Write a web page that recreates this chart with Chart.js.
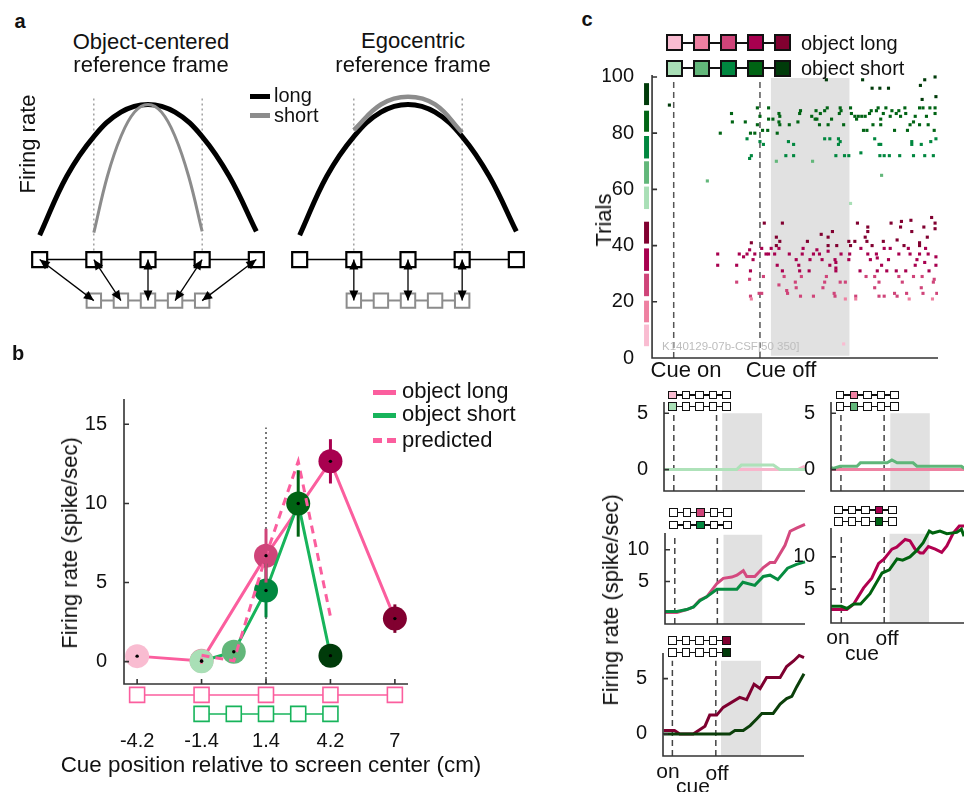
<!DOCTYPE html>
<html><head><meta charset="utf-8">
<script src="https://cdn.jsdelivr.net/npm/chart.js@4.4.1/dist/chart.umd.min.js"></script>
<style>
html,body{margin:0;padding:0;background:#fff;}
#fig{position:relative;width:964px;height:792px;overflow:hidden;font-family:"Liberation Sans",Arial,sans-serif;color:#111;}
#fig canvas{position:absolute;}
.t{position:absolute;white-space:nowrap;line-height:1;transform:translate(-50%,-50%);}
.l{position:absolute;white-space:nowrap;line-height:1;transform:translate(0,-50%);}
.r{position:absolute;white-space:nowrap;line-height:1;transform:translate(-50%,-50%) rotate(-90deg);}
.sw{position:absolute;box-sizing:border-box;}
</style></head><body><div id="fig"></div><script>
// ---------- a: schematic tuning curves (position index, relative rate) ----------
const aTopPos = [-2, -1, 0, 1, 2];
const aSubPos = [-1, -0.5, 0, 0.5, 1];
const aRowY = -0.21, aSubRowY = -0.53;
const aLongX = [-2, -1.5, -1, -0.5, 0, 0.5, 1, 1.5, 2];
const aLongY = [-0.02, 0.44, 0.75, 0.94, 1, 0.94, 0.75, 0.44, 0.01];
const aObjShortX = [-1, -0.75, -0.5, -0.25, 0, 0.25, 0.5, 0.75, 1];
const aObjShortY = [0, 0.44, 0.75, 0.94, 1, 0.94, 0.75, 0.44, 0.01];
const aEgoShortX = [-1, -0.5, 0, 0.5, 1];
const aEgoShortY = [0.8, 1.0, 1.06, 1.0, 0.78];

// ---------- b: tuning across cue positions ----------
const bLongPos = [-4.2, -1.4, 1.4, 4.2, 7];
const bShortPos = [-1.4, 0, 1.4, 2.8, 4.2];
const bLongRate = [0.35, 0.05, 6.7, 12.66, 2.72];
const bLongErr = [0.2, 0.2, 1.7, 1.4, 0.9];
const bShortRate = [0.03, 0.63, 4.5, 10.0, 0.38];
const bShortErr = [0.15, 0.2, 1.7, 2.1, 0.2];
const bPredRate = [0.4, 0.05, 6.7, 12.66, 2.85];
const bXTicks = [-4.2, -1.4, 1.4, 4.2, 7];
const bYTicks = [0, 5, 10, 15];
const longColors = ['#f9bcd1', '#ee80a1', '#cf4479', '#a8004f', '#810030'];
const shortColors = ['#a9dfb6', '#62b77a', '#00873f', '#006414', '#003b0a'];

// ---------- c: raster (time re. cue on, trial) ----------
const cueOn = 0, cueOff = 1;
const rasterTicks = [0, 20, 40, 60, 80, 100];
const longGroups = [[4.2, 11.9], [12.7, 20.4], [22, 30], [31, 39], [40.7, 48.5]];
const shortGroups = [[53, 61], [62, 70], [71, 79], [80.5, 88], [90, 97.8]];
const rasterShort = [[-0.05,90],[0.39,63],[0.54,80],[0.67,87],[0.68,84],[0.83,84],[0.85,78],[0.89,80],[0.90,72],[0.88,71],[0.94,80],[0.97,89],[0.97,83],[1.0,86],[1.0,77],[1.04,76],[1.03,81],[1.09,81],[1.10,89],[1.10,85],[1.15,85],[1.19,70],[1.20,80],[1.22,87],[1.23,86],[1.23,83],[1.22,84],[1.34,83],[1.33,77],[1.39,76],[1.30,72],[1.39,72],[1.44,84],[1.46,87],[1.47,88],[1.61,70],[1.60,86],[1.65,88],[1.64,85],[1.66,85],[1.69,83],[1.70,87],[1.75,88],[1.78,89],[1.77,99],[1.79,83],[1.75,78],[1.81,78],[1.83,85],[1.88,72],[1.91,78],[1.91,76],[1.93,89],[1.92,87],[1.94,88],[1.93,77],[1.97,83],[1.98,72],[2.03,72],[2.05,55],[2.05,89],[2.06,87],[2.10,86],[2.14,86],[2.18,86],[2.22,86],[2.12,85],[2.17,73],[2.19,99],[2.20,81],[2.24,81],[2.27,87],[2.29,88],[2.30,96],[2.31,83],[2.33,78],[2.35,88],[2.37,89],[2.38,76],[2.40,76],[2.39,96],[2.39,72],[2.41,65],[2.40,85],[2.40,83],[2.43,87],[2.44,72],[2.46,89],[2.49,96],[2.50,72],[2.51,86],[2.53,88],[2.56,81],[2.58,87],[2.61,88],[2.62,72],[2.63,86],[2.68,89],[2.69,87],[2.71,81],[2.74,83],[2.76,77],[2.76,76],[2.78,72],[2.78,84],[2.80,86],[2.85,89],[2.89,89],[2.85,83],[2.86,97],[2.87,76],[2.88,92],[2.91,99],[2.91,72],[2.93,86],[2.95,83],[2.97,89],[3.03,89],[2.98,77],[3.01,72],[3.02,81],[3.03,100],[3.04,93],[3.03,87],[3.04,78]];
const rasterLong = [[0.51,37],[0.51,33],[0.73,33],[0.73,27],[0.76,37],[0.81,36],[0.85,37],[0.88,38.5],[0.90,41],[0.92,35],[0.89,31],[0.88,28],[0.89,22],[0.90,21],[0.99,23],[1.02,23],[0.94,37],[1.02,39],[1.04,29],[1.05,48],[1.07,37],[1.10,37],[1.13,39],[1.17,37],[1.19,43],[1.20,33],[1.19,40],[1.22,39],[1.23,41.5],[1.26,48],[1.26,31],[1.28,29],[1.22,26],[1.31,24],[1.32,23],[1.34,37],[1.41,27],[1.42,35],[1.42,25],[1.45,33],[1.46,31],[1.48,29],[1.49,37],[1.47,22],[1.50,39],[1.55,41.5],[1.58,35],[1.57,31],[1.62,22],[1.62,37],[1.66,38.5],[1.69,37],[1.71,44],[1.72,35],[1.77,29],[1.79,43],[1.79,40],[1.81,33],[1.79,38],[1.75,27],[1.73,25],[1.84,45],[1.86,23],[1.87,22],[1.87,35],[1.88,34],[1.88,32],[1.88,31],[1.89,40],[1.93,27],[1.99,27],[1.94,37],[1.99,21],[1.97,5],[2.03,41.5],[2.04,37],[2.05,40],[2.03,35],[2.10,41.5],[2.11,22],[2.11,21],[2.13,48],[2.16,31],[2.17,39],[2.22,43],[2.24,41.5],[2.25,45],[2.25,46.6],[2.25,37],[2.23,29],[2.28,35],[2.30,40],[2.33,25],[2.33,29],[2.35,37],[2.36,35.6],[2.36,31],[2.38,27],[2.38,22],[2.44,22],[2.41,33],[2.43,41.5],[2.44,39],[2.47,31],[2.49,35],[2.52,48],[2.51,39],[2.56,23],[2.59,22],[2.58,31],[2.59,42],[2.61,37],[2.61,29],[2.63,46.6],[2.64,48.6],[2.65,27],[2.67,40],[2.69,31],[2.70,23],[2.73,21],[2.72,39],[2.74,37],[2.75,49],[2.76,45],[2.78,29],[2.80,33],[2.82,35],[2.85,40],[2.85,41],[2.85,37],[2.87,25],[2.88,29],[2.89,23],[2.90,46.6],[2.91,34],[2.92,39],[2.94,43],[2.95,37],[2.96,31],[2.99,50],[3.00,21],[3.01,27],[3.02,28],[3.03,48],[3.03,46],[3.04,36],[3.04,33],[3.05,23]];

// ---------- c: firing rate per cue position (time, spike/sec) ----------
const c1Long = [[-0.23,0],[2.9,0],[3.07,0.3]];
const c1Short = [[-0.23,0],[1.47,0],[1.58,0.4],[2.33,0.4],[2.48,0],[3.07,0]];
const c2Long = [[-0.23,0],[2.86,0]];
const c2Short = [[-0.23,0.2],[-0.18,0.1],[-0.02,0.3],[0.37,0.3],[0.45,0.6],[1.07,0.6],[1.18,0.85],[1.3,0.6],[1.67,0.6],[1.76,0.3],[2.79,0.3],[2.86,0.1]];
const c3Long = [[-0.23,0.15],[0.05,0.15],[0.28,0.6],[0.44,1.0],[0.59,2.1],[0.75,2.6],[0.99,4.7],[1.14,5.5],[1.34,5.7],[1.46,6.0],[1.61,6.7],[1.69,5.8],[1.88,5.8],[2.08,7.2],[2.24,8.0],[2.35,8.0],[2.59,10.7],[2.71,12.9],[2.86,13.4],[3.06,14.0]];
const c3Short = [[-0.23,0.3],[0.05,0.3],[0.28,0.6],[0.44,1.0],[0.59,2.0],[0.75,2.6],[0.99,3.8],[1.46,3.8],[1.6,4.9],[1.88,4.4],[2.08,5.8],[2.24,6.0],[2.42,5.3],[2.65,7.1],[2.86,7.7],[3.06,8.1]];
const c4Long = [[-0.24,1.85],[0.13,1.85],[0.29,2.7],[0.52,5.2],[0.71,6.7],[0.87,9.0],[1.0,9.7],[1.18,11.2],[1.29,11.5],[1.49,12.7],[1.6,12.5],[1.72,11.2],[1.84,10.6],[1.91,10.6],[2.03,11.6],[2.19,11.2],[2.34,10.7],[2.46,11.7],[2.61,13.7],[2.75,14.8],[2.86,14.8]];
const c4Short = [[-0.24,2.35],[0.0,2.35],[0.13,2.0],[0.29,2.7],[0.45,2.7],[0.67,4.3],[0.95,7.5],[1.12,8.0],[1.3,9.7],[1.43,9.5],[1.6,10.0],[1.76,11.0],[1.91,12.2],[2.05,14.0],[2.13,13.7],[2.3,14.0],[2.46,13.6],[2.69,13.8],[2.8,14.3],[2.86,13.2]];
const c5Long = [[-0.2,0.3],[0.05,0.3],[0.17,0],[0.48,0],[0.75,0.7],[0.86,1.7],[1.02,1.7],[1.17,2.4],[1.55,3.3],[1.71,3.1],[1.88,4.5],[2.02,4.1],[2.17,5.1],[2.48,5.1],[2.63,6.1],[2.79,6.6],[2.92,7.1],[3.03,6.9]];
const c5Short = [[-0.2,0],[1.32,0],[1.44,0.3],[1.63,0.3],[1.79,0.75],[1.94,1.35],[2.06,1.85],[2.32,1.85],[2.48,2.7],[2.63,3.2],[2.75,3.4],[2.86,4.25],[3.03,5.45]];
const smallLong = ['#f8b6cc', '#ee82a2', '#d4497f', '#b1004f', '#7e0030'];
const smallShort = ['#aee2b9', '#5fb679', '#068c40', '#00630f', '#0b3f0a'];

// ---------- helpers ----------
Chart.defaults.font.family = '"Liberation Sans", Arial, sans-serif';
Chart.defaults.color = '#111';
const fig = document.getElementById('fig');
const PINK = '#fb5e9e', GREEN = '#17b45b';

function txt(s, x, y, cls, size, extra) {
  const d = document.createElement('div');
  d.className = cls; d.textContent = s;
  Object.assign(d.style, {left: x + 'px', top: y + 'px', fontSize: size + 'px'}, extra || {});
  fig.appendChild(d);
  return d;
}
function box(x, y, w, h, style) {
  const d = document.createElement('div');
  d.className = 'sw';
  Object.assign(d.style, {left: x + 'px', top: y + 'px', width: w + 'px', height: h + 'px'}, style);
  fig.appendChild(d);
}
function squareRow(x0, dx, y, side, bw, fills) {
  box(x0, y - bw / 2, dx * (fills.length - 1), bw, {background: '#111'});
  fills.forEach((c, i) => box(x0 + i * dx - side / 2, y - side / 2, side, side,
    {background: c, border: bw + 'px solid #111'}));
}
const xy = pts => pts.map(([x, y]) => ({x, y}));
function seg(pts, color, width, extra) {
  return Object.assign({data: xy(pts), borderColor: color, borderWidth: width,
    pointRadius: 0, fill: false, tension: 0}, extra || {});
}
function hidden(min, max) { return {type: 'linear', min, max, display: false}; }
function ticked(min, max, ticks, size, fitFn, pad) {
  return {type: 'linear', min, max, grid: {display: false}, border: {display: false},
    afterFit: fitFn,
    afterBuildTicks: s => { s.ticks = ticks.map(v => ({value: v})); },
    ticks: {padding: pad, font: {size}, color: '#111', callback: v => String(v),
      maxRotation: 0, autoSkip: false}};
}
// axis lines with inward ticks, placed through the chart scales
function axes(o) {
  return {id: 'axes', afterDatasetsDraw(chart) {
    const {ctx, scales: {x, y}} = chart;
    const X = v => x.getPixelForValue(v), Y = v => y.getPixelForValue(v);
    ctx.save();
    ctx.strokeStyle = '#333'; ctx.lineWidth = 1.6;
    ctx.beginPath();
    ctx.moveTo(X(o.x0), Y(o.yTop)); ctx.lineTo(X(o.x0), Y(o.y0)); ctx.lineTo(X(o.xEnd), Y(o.y0));
    (o.yTicks || []).forEach(v => { ctx.moveTo(X(o.x0), Y(v)); ctx.lineTo(X(o.x0) + 5, Y(v)); });
    (o.xTicks || []).forEach(v => { ctx.moveTo(X(v), Y(o.y0)); ctx.lineTo(X(v), Y(o.y0) - 5); });
    ctx.stroke();
    ctx.restore();
  }};
}
// double-headed arrows between two rows of squares
function arrows(pairs) {
  return {id: 'arrows', afterDatasetsDraw(chart) {
    const {ctx, scales: {x, y}} = chart;
    const head = (tip, from) => {
      const a = Math.atan2(tip[1] - from[1], tip[0] - from[0]), L = 10, W = 4.5;
      const bx = tip[0] - L * Math.cos(a), by = tip[1] - L * Math.sin(a);
      ctx.beginPath();
      ctx.moveTo(tip[0], tip[1]);
      ctx.lineTo(bx + W * Math.sin(a), by - W * Math.cos(a));
      ctx.lineTo(bx - W * Math.sin(a), by + W * Math.cos(a));
      ctx.closePath(); ctx.fill();
    };
    ctx.save();
    ctx.strokeStyle = ctx.fillStyle = '#000'; ctx.lineWidth = 1.3;
    pairs.forEach(([x1, y1, x2, y2]) => {
      const p = [x.getPixelForValue(x1), y.getPixelForValue(y1)];
      const q = [x.getPixelForValue(x2), y.getPixelForValue(y2)];
      ctx.beginPath(); ctx.moveTo(p[0], p[1]); ctx.lineTo(q[0], q[1]); ctx.stroke();
      head(p, q); head(q, p);
    });
    ctx.restore();
  }};
}
function mkChart(b, yw, xh, pad, datasets, scales, plugins) {
  const w = Math.round(b.R - b.L) + yw + 2 * pad;
  const h = Math.round(b.B - b.T) + xh + 2 * pad;
  const c = document.createElement('canvas');
  c.width = w; c.height = h;
  Object.assign(c.style, {left: (b.L - yw - pad) + 'px', top: (b.T - pad) + 'px', width: w + 'px', height: h + 'px'});
  fig.appendChild(c);
  return new Chart(c, {
    type: 'line',
    data: {datasets},
    options: {responsive: false, animation: false, events: [],
      layout: {padding: pad, autoPadding: false},
      plugins: {legend: {display: false}, tooltip: {enabled: false}}, scales},
    plugins
  });
}

// ---------- panel a ----------
function schematic(L, shortX, shortY, shortW, pairs) {
  const ds = [
    seg([[-1, -0.14], [-1, 1.05]], '#8a8a8a', 1.2, {borderDash: [2, 3], order: 9}),
    seg([[1, -0.14], [1, 1.05]], '#8a8a8a', 1.2, {borderDash: [2, 3], order: 9}),
    seg(aLongX.map((v, i) => [v, aLongY[i]]), '#000', 5, {tension: 0.4, order: 6}),
    seg(shortX.map((v, i) => [v, shortY[i]]), '#8c8c8c', shortW, {tension: 0.4, order: 5}),
    seg(aTopPos.map(v => [v, aRowY]), '#000', 1.5, {pointStyle: 'rect', pointRadius: 10.6,
      pointBackgroundColor: '#fff', pointBorderColor: '#000', pointBorderWidth: 2.2, order: 3}),
    seg(aSubPos.map(v => [v, aSubRowY]), '#8c8c8c', 2, {pointStyle: 'rect', pointRadius: 10.2,
      pointBackgroundColor: '#fff', pointBorderColor: '#8c8c8c', pointBorderWidth: 2, order: 4})
  ];
  mkChart({L, T: 66, R: L + 260, B: 316}, 0, 0, 0, ds,
    {x: hidden(-2.4, 2.4), y: hidden(-0.65, 1.3)}, [arrows(pairs)]);
}
schematic(18, aObjShortX, aObjShortY, 3, aTopPos.map((p, i) => [p, aRowY, aSubPos[i], aSubRowY]));
schematic(278, aEgoShortX, aEgoShortY, 4.5, [1, 2, 3].map(i => [aTopPos[i], aRowY, aSubPos[2 * (i - 1)], aSubRowY]));

txt('a', 20, 21, 't', 20, {fontWeight: 'bold'});
txt('Object-centered', 151, 42, 't', 22);
txt('reference frame', 151, 65, 't', 22);
txt('Egocentric', 413, 41, 't', 22);
txt('reference frame', 413, 65, 't', 22);
txt('Firing rate', 28, 144, 'r', 22);
box(250, 94, 20, 5, {background: '#000'});
txt('long', 274, 95, 'l', 20);
box(250, 113, 20, 5, {background: '#8c8c8c'});
txt('short', 274, 115, 'l', 20);

// ---------- panel b ----------
(function () {
  const ds = [];
  ds.push(seg([[1.4, -1.41], [1.4, 14.8]], '#777', 2, {borderDash: [2, 3], order: 12}));
  ds.push(seg(bLongPos.map(v => [v, -2.1]), PINK, 1.5, {pointStyle: 'rect', pointRadius: 10.6,
    pointBackgroundColor: '#fff', pointBorderColor: PINK, pointBorderWidth: 1.6, clip: false, order: 11}));
  ds.push(seg(bShortPos.map(v => [v, -3.3]), GREEN, 1.5, {pointStyle: 'rect', pointRadius: 10.6,
    pointBackgroundColor: '#fff', pointBorderColor: GREEN, pointBorderWidth: 1.6, clip: false, order: 11}));
  ds.push(seg(bLongPos.map((v, i) => [v, bLongRate[i]]), PINK, 3, {order: 9}));
  ds.push(seg(bLongPos.map((v, i) => [v, bLongRate[i]]), 'rgba(0,0,0,0)', 0,
    {showLine: false, pointRadius: 12, pointBorderWidth: 0, pointBackgroundColor: longColors, order: 8}));
  ds.push(seg(bShortPos.map((v, i) => [v, bShortRate[i]]), GREEN, 3, {order: 7}));
  ds.push(seg(bShortPos.map((v, i) => [v, bShortRate[i]]), 'rgba(0,0,0,0)', 0,
    {showLine: false, pointRadius: 12, pointBorderWidth: 0, pointBackgroundColor: shortColors, order: 6}));
  ds.push(seg(bShortPos.map((v, i) => [v, bPredRate[i]]), PINK, 3, {borderDash: [8, 6], order: 5}));
  bLongPos.forEach((v, i) => ds.push(seg([[v, bLongRate[i] - bLongErr[i]], [v, bLongRate[i] + bLongErr[i]]], longColors[i], 3, {order: 4})));
  bShortPos.forEach((v, i) => ds.push(seg([[v, bShortRate[i] - bShortErr[i]], [v, bShortRate[i] + bShortErr[i]]], shortColors[i], 3, {order: 4})));
  ds.push(seg(bLongPos.map((v, i) => [v, bLongRate[i]]).concat(bShortPos.map((v, i) => [v, bShortRate[i]])), 'rgba(0,0,0,0)', 0,
    {showLine: false, pointRadius: 1.7, pointBorderWidth: 0, pointBackgroundColor: '#000', order: 1}));
  mkChart({L: 124, T: 399, R: 408, B: 721}, 64, 30, 24, ds, {
    x: ticked(-4.77, 7.57, bXTicks, 20, s => { s.height = 30; }, 0),
    y: ticked(-3.75, 16.6, bYTicks, 20, s => { s.width = 64; }, 9)
  }, [axes({x0: -4.77, xEnd: 7.57, y0: -1.41, yTop: 16.6, xTicks: bXTicks, yTicks: bYTicks})]);
})();
txt('b', 18, 353, 't', 20, {fontWeight: 'bold'});
txt('Firing rate (spike/sec)', 70, 543, 'r', 22);
txt('Cue position relative to screen center (cm)', 271, 765, 't', 22.4);
box(373, 389.5, 23, 5, {background: PINK});
txt('object long', 402, 391, 'l', 22);
box(373, 412.5, 23, 5, {background: GREEN});
txt('object short', 402, 414, 'l', 22);
box(373, 437.5, 9, 5, {background: PINK});
box(387, 437.5, 9, 5, {background: PINK});
txt('predicted', 402, 440, 'l', 22);

// ---------- panel c raster ----------
(function () {
  const near = (tr, groups) => {
    let best = 0, bd = 1e9;
    groups.forEach(([a, b], i) => { const d = tr < a ? a - tr : tr > b ? tr - b : 0; if (d < bd) { bd = d; best = i; } });
    return best;
  };
  const ds = [];
  ds.push(seg([[1.124, 99.6], [2.04, 99.6]], 'rgba(0,0,0,0)', 0, {fill: {value: 0.8}, backgroundColor: '#e1e1e1', order: 20}));
  [cueOn, cueOff].forEach(t => ds.push(seg([[t, 0], [t, 99.6]], '#555', 1.5, {borderDash: [6, 4], order: 15})));
  longGroups.forEach((g, i) => ds.push(seg([[-0.315, g[0]], [-0.315, g[1]]], longColors[i], 5, {order: 10})));
  shortGroups.forEach((g, i) => ds.push(seg([[-0.315, g[0]], [-0.315, g[1]]], shortColors[i], 5, {order: 10})));
  ds.push(seg(rasterLong, 'rgba(0,0,0,0)', 0, {showLine: false, pointStyle: 'rect', pointRadius: 2.2, pointBorderWidth: 0,
    pointBackgroundColor: rasterLong.map(([, tr]) => longColors[near(tr, longGroups)]), order: 2}));
  ds.push(seg(rasterShort, 'rgba(0,0,0,0)', 0, {showLine: false, pointStyle: 'rect', pointRadius: 2.2, pointBorderWidth: 0,
    pointBackgroundColor: rasterShort.map(([, tr]) => shortColors[near(tr, shortGroups)]), order: 2}));
  mkChart({L: 643, T: 75, R: 938, B: 358}, 40, 0, 24, ds, {
    x: hidden(-0.356, 3.064),
    y: ticked(0, 100.7, rasterTicks, 20, s => { s.width = 40; }, 1)
  }, [axes({x0: -0.251, xEnd: 3.064, y0: 0, yTop: 100.7, yTicks: rasterTicks})]);
})();
txt('c', 587, 19, 't', 20, {fontWeight: 'bold'});
squareRow(674.3, 27.1, 42.7, 16.7, 2, longColors);
squareRow(674.3, 27.1, 68.3, 16.7, 2, shortColors);
txt('object long', 801, 43, 'l', 20);
txt('object short', 801, 68, 'l', 20);
txt('Trials', 604, 220, 'r', 22);
txt('Cue on', 686, 370, 't', 22);
txt('Cue off', 781, 370, 't', 22);
txt('K140129-07b-CSF[50  350]', 662, 347, 'l', 11.5, {color: '#bdbdbd'});

// ---------- panel c small rate plots ----------
const panels = [
  {L: 664, T: 401.7, R: 805, B: 490.7, x: [-0.23, 3.07], y: [-1.9, 6.0], ticks: [0, 5], gray: [1.13, 2.07, 5.0], long: c1Long, short: c1Short, hx: 672.3, hy: [395, 406.7]},
  {L: 830.7, T: 401.7, R: 964, B: 490.7, x: [-0.23, 2.85], y: [-1.9, 6.0], ticks: [0, 5], gray: [1.14, 2.06, 5.0], long: c2Long, short: c2Short, hx: 840.2, hy: [395, 406.7]},
  {L: 665, T: 533.3, R: 805, B: 624, x: [-0.23, 3.06], y: [-1.67, 12.63], ticks: [5, 10], gray: [1.14, 2.06, 12.37], long: c3Long, short: c3Short, hx: 673.3, hy: [512.7, 525]},
  {L: 830.7, T: 528.3, R: 964, B: 623.3, x: [-0.24, 2.86], y: [-0.25, 14.48], ticks: [5, 10], gray: [1.12, 2.05, 13.58], long: c4Long, short: c4Short, hx: 838.3, hy: [510, 521.7]},
  {L: 663.3, T: 653.3, R: 804, B: 756.7, x: [-0.216, 3.03], y: [-2.0, 7.32], ticks: [0, 5], gray: [1.12, 2.04, 6.63], long: c5Long, short: c5Short, hx: 672.3, hy: [640.7, 652.7]}
];
panels.forEach((p, k) => {
  const ds = [];
  ds.push(seg([[p.gray[0], p.gray[2]], [p.gray[1], p.gray[2]]], 'rgba(0,0,0,0)', 0, {fill: {value: p.y[0]}, backgroundColor: '#e1e1e1', order: 20}));
  [cueOn, cueOff].forEach(t => ds.push(seg([[t, p.y[0]], [t, p.gray[2]]], '#444', 1.5, {borderDash: [6, 4], order: 15})));
  ds.push(seg(p.long, smallLong[k], 3, {clip: false, order: 6}));
  ds.push(seg(p.short, smallShort[k], 3, {clip: false, order: 5}));
  mkChart(p, 36, 0, 24, ds, {
    x: hidden(p.x[0], p.x[1]),
    y: ticked(p.y[0], p.y[1], p.ticks, 20, s => { s.width = 36; }, 8)
  }, [axes({x0: p.x[0], xEnd: p.x[1], y0: p.y[0], yTop: p.y[1], yTicks: p.ticks})]);
  const f1 = ['#fff', '#fff', '#fff', '#fff', '#fff'], f2 = f1.slice();
  f1[k] = longColors[k]; f2[k] = shortColors[k];
  squareRow(p.hx, 13.6, p.hy[0], 8.5, 1.5, f1);
  squareRow(p.hx, 13.6, p.hy[1], 8.5, 1.5, f2);
});
txt('Firing rate (spike/sec)', 611, 600, 'r', 22);
txt('on', 838, 636, 't', 21);
txt('off', 887, 637, 't', 21);
txt('cue', 862, 652, 't', 21);
txt('on', 668, 770, 't', 21);
txt('off', 717, 772, 't', 21);
txt('cue', 693, 785, 't', 21);
</script></body></html>
